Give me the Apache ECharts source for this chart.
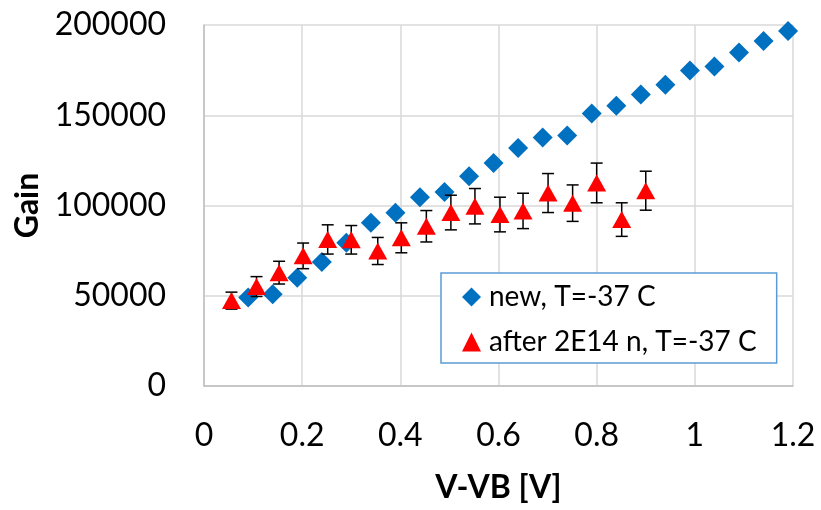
<!DOCTYPE html>
<html>
<head>
<meta charset="utf-8">
<script src="https://cdn.jsdelivr.net/npm/echarts@6/dist/echarts.min.js"></script>
<style>
  html, body { margin: 0; padding: 0; background: #fff; }
  #chart { width: 821px; height: 510px; }
</style>
</head>
<body>
<div id="chart"></div>
<script>
// data
var newX = [0.09, 0.14, 0.19, 0.24, 0.29, 0.34, 0.39, 0.44, 0.49, 0.54, 0.59, 0.64,
  0.69, 0.74, 0.79, 0.84, 0.89, 0.94, 0.99, 1.04, 1.09, 1.14, 1.19];
var newGain = [49000, 50800, 60000, 68700, 79400, 90400, 96000, 104600, 107500, 116200, 123600, 131900,
  137700, 138800, 151000, 155300, 161500, 166900, 174800, 177000, 184700, 191200, 196700];

var irrX = [0.056, 0.107, 0.153, 0.202, 0.252, 0.30, 0.354, 0.402, 0.453, 0.503, 0.552, 0.603,
  0.65, 0.701, 0.751, 0.80, 0.851, 0.90];
var irrGain = [47300, 55100, 62800, 72100, 81200, 81000, 74800, 82100, 88500, 96100, 99600, 95000,
  97000, 106900, 101300, 112500, 92200, 108200];
var irrErr = [4700, 5500, 6300, 7100, 8100, 7900, 7500, 8300, 8700, 9600, 9800, 9600,
  9800, 10800, 10100, 11000, 9300, 10800];

var newName = 'new, T=-37 C';
var irrName = 'after 2E14 n, T=-37 C';

var font = 'Lato';

var newData = newX.map(function (x, i) { return [x, newGain[i]]; });
var irrData = irrX.map(function (x, i) { return [x, irrGain[i]]; });
var errData = irrX.map(function (x, i) { return [x, irrGain[i] - irrErr[i], irrGain[i] + irrErr[i]]; });

var myChart = echarts.init(document.getElementById('chart'));

var option = {
  animation: false,
  grid: { left: 204, right: 28, top: 25, bottom: 124, outerBoundsMode: 'none', containLabel: false },
  legend: {
    left: 441,
    top: 273,
    orient: 'vertical',
    backgroundColor: '#fff',
    borderColor: '#5b9bd5',
    borderWidth: 1.5,
    borderRadius: 0,
    padding: [10, 20, 7, 21],
    itemGap: 17,
    itemWidth: 19,
    itemHeight: 19,
    textStyle: { fontFamily: font, fontSize: 28, color: '#000', padding: [0, 0, 0, 3] },
    data: [
      { name: newName, icon: 'diamond' },
      { name: irrName, icon: 'triangle' }
    ]
  },
  xAxis: {
    type: 'value',
    min: 0,
    max: 1.2,
    interval: 0.2,
    name: 'V-VB [V]',
    nameLocation: 'middle',
    nameGap: 86,
    nameTextStyle: { fontFamily: font, fontSize: 32, fontWeight: 'bold', color: '#000' },
    axisLine: { lineStyle: { color: '#bfbfbf', width: 1.5 } },
    axisTick: { show: false },
    axisLabel: { fontFamily: font, fontSize: 32, color: '#000', margin: 34 },
    splitLine: { lineStyle: { color: '#d9d9d9', width: 1.5 } }
  },
  yAxis: {
    type: 'value',
    min: 0,
    max: 200000,
    interval: 50000,
    name: 'Gain',
    nameLocation: 'middle',
    nameGap: 157,
    nameRotate: 90,
    nameTextStyle: { fontFamily: font, fontSize: 32, fontWeight: 'bold', color: '#000' },
    axisLine: { show: true, lineStyle: { color: '#bfbfbf', width: 1.5 } },
    axisTick: { show: false },
    axisLabel: {
      fontFamily: font, fontSize: 32, color: '#000', margin: 38,
      formatter: function (v) { return String(v); }
    },
    splitLine: { lineStyle: { color: '#d9d9d9', width: 1.5 } }
  },
  series: [
    {
      name: newName,
      type: 'scatter',
      symbol: 'diamond',
      symbolSize: 20,
      itemStyle: { color: '#0070c0', opacity: 1 },
      data: newData,
      z: 2
    },
    {
      name: 'err',
      type: 'custom',
      z: 3,
      data: errData,
      renderItem: function (params, api) {
        var x = api.value(0);
        var lo = api.coord([x, api.value(1)]);
        var hi = api.coord([x, api.value(2)]);
        var w = 6;
        var style = { stroke: '#000', lineWidth: 1.5 };
        return {
          type: 'group',
          children: [
            { type: 'line', shape: { x1: lo[0], y1: lo[1], x2: hi[0], y2: hi[1] }, style: style },
            { type: 'line', shape: { x1: lo[0] - w, y1: lo[1], x2: lo[0] + w, y2: lo[1] }, style: style },
            { type: 'line', shape: { x1: hi[0] - w, y1: hi[1], x2: hi[0] + w, y2: hi[1] }, style: style }
          ]
        };
      }
    },
    {
      name: irrName,
      type: 'scatter',
      symbol: 'triangle',
      symbolSize: [19, 17],
      itemStyle: { color: '#ff0000', opacity: 1 },
      data: irrData,
      z: 4
    }
  ]
};

myChart.setOption(option);
</script>
</body>
</html>
